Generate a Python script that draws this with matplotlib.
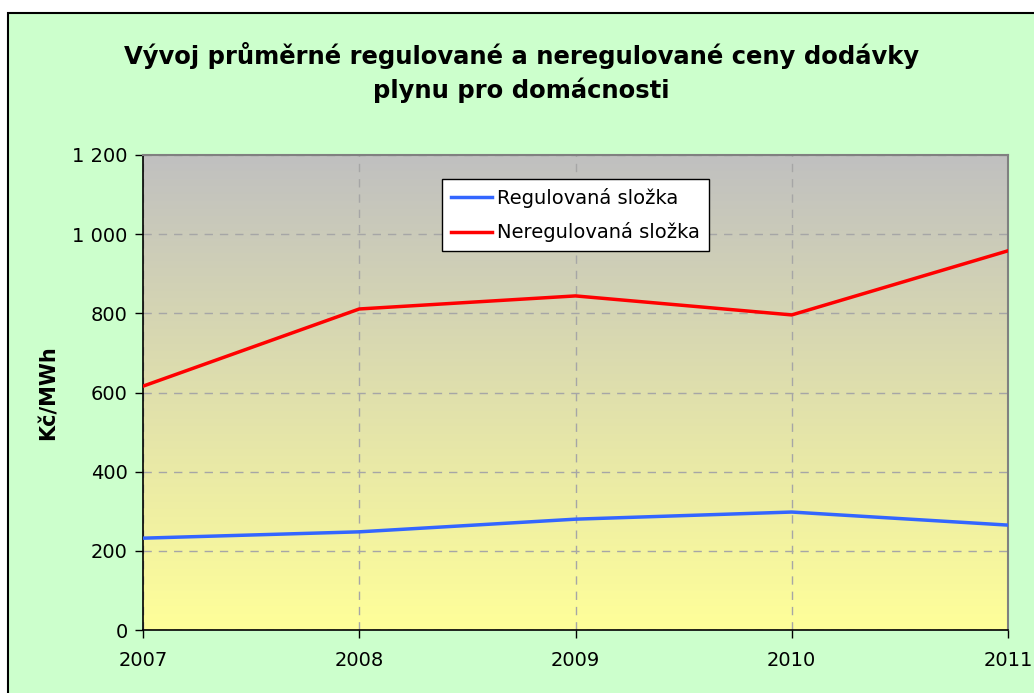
import matplotlib
matplotlib.use("Agg")
import matplotlib.pyplot as plt
import numpy as np
from matplotlib.colors import LinearSegmentedColormap
from matplotlib.patches import Rectangle

years = [2007, 2008, 2009, 2010, 2011]
regulovana = [232, 248, 280, 298, 265]
neregulovana = [616, 811, 844, 796, 958]

plt.rcParams['font.family'] = ['DejaVu Sans']

fig = plt.figure(figsize=(10.34, 6.93), dpi=100)
fig.patch.set_facecolor('white')

# green chart area with a black frame (cut at right/bottom edges)
fig.patches.append(Rectangle((8 / 1034, -0.05), 1.1, (693 - 13) / 693 + 0.05,
                             transform=fig.transFigure, facecolor='#CCFFCC',
                             edgecolor='black', linewidth=1.5, zorder=-5))

ax = fig.add_axes([143 / 1034, 1 - 630 / 693, (1008 - 143) / 1034, (630 - 155) / 693])
ax.set_zorder(2)

# gradient background: gray at top, pale yellow at bottom
cmap = LinearSegmentedColormap.from_list('bg', ['#FFFF99', '#C0C0C0'])
grad = np.linspace(0, 1, 256).reshape(-1, 1)
ax.imshow(grad, cmap=cmap, aspect='auto', origin='lower',
          extent=[0, 1, 0, 1], transform=ax.transAxes, zorder=0)

ax.plot(years, regulovana, color='#3366FF', lw=2.5, label='Regulovaná složka', zorder=3)
ax.plot(years, neregulovana, color='#FF0000', lw=2.5, label='Neregulovaná složka', zorder=3)

ax.set_xlim(2007, 2011)
ax.set_ylim(0, 1200)
ax.set_xticks(years)
ax.set_yticks(range(0, 1201, 200))
ax.set_yticklabels(['0', '200', '400', '600', '800', '1 000', '1 200'])

ax.grid(True, color='#A6A6A6', linestyle=(0, (6, 5)), linewidth=1, zorder=1)
ax.set_axisbelow(True)

ax.tick_params(axis='both', labelsize=14, length=6, width=1, direction='out', color='black')
ax.tick_params(axis='x', pad=9)
ax.tick_params(axis='y', pad=5)
for s in ['top', 'right']:
    ax.spines[s].set_color('#808080')
    ax.spines[s].set_linewidth(1.5)
for s in ['left', 'bottom']:
    ax.spines[s].set_color('black')
    ax.spines[s].set_linewidth(1.2)

ax.set_ylabel('Kč/MWh', fontsize=15, fontweight='bold', labelpad=10)

fig.text(0.504, 0.895, 'Vývoj průměrné regulované a neregulované ceny dodávky\nplynu pro domácnosti',
         ha='center', va='center', fontsize=17.5, fontweight='bold', linespacing=1.4)

leg = ax.legend(loc='upper left', bbox_to_anchor=((442 - 143) / 865, 1 - (179 - 155) / 475),
                fontsize=14, frameon=True, fancybox=False, edgecolor='black',
                framealpha=1, borderaxespad=0, handlelength=2.1, handletextpad=0.3,
                borderpad=0.45, labelspacing=0.75)
leg.get_frame().set_linewidth(1)

fig.savefig('out.png', dpi=100)
